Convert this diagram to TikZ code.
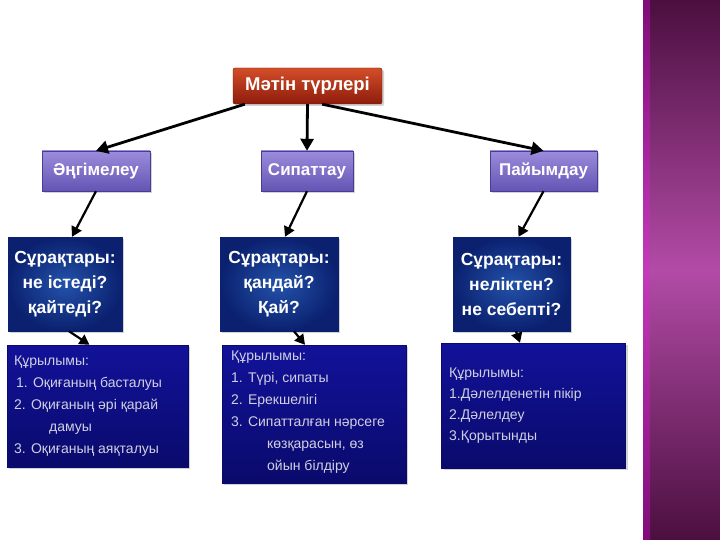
\documentclass[tikz,border=0pt]{standalone}
\usepackage{fontspec}
\setmainfont{Liberation Sans}
\usetikzlibrary{calc,arrows.meta,shadows}
\definecolor{bandDark}{HTML}{4B0F3F}
\definecolor{bandMid}{HTML}{B24BA6}
\definecolor{redTop}{HTML}{D24E28}
\definecolor{redBot}{HTML}{8E1C0C}
\definecolor{purTop}{HTML}{9B8CDC}
\definecolor{purBot}{HTML}{6454B4}
\definecolor{purLine}{HTML}{4A3C94}
\definecolor{blueIn}{HTML}{2352AA}
\definecolor{blueOut}{HTML}{0B2170}
\definecolor{navyTop}{HTML}{12129A}
\definecolor{navyBot}{HTML}{0A0A6C}
\definecolor{lightText}{HTML}{D0D0E2}
\tikzset{
  shad/.style={drop shadow={opacity=0.35,shadow xshift=2pt,shadow yshift=-2pt}},
  titlebox/.style={shad,rectangle,rounded corners=2pt,top color=redTop,bottom color=redBot,draw=redBot!80!black,
    minimum width=149pt,minimum height=36pt,text=white,font=\bfseries\fontsize{18.5}{22}\selectfont},
  kindbox/.style={shad,rectangle,top color=purTop,bottom color=purBot,draw=purLine,
    minimum height=40pt,text height=13pt,text depth=4pt,text=white,font=\bfseries\fontsize{17}{20}\selectfont},
  qbox/.style={shad,rectangle,inner color=blueIn,outer color=blueOut,draw=blueOut,
    minimum height=94pt,text=white,align=center,font=\bfseries\fontsize{17.5}{25}\selectfont},
  sbox/.style={shad,rectangle,top color=navyTop,bottom color=navyBot,draw=navyBot},
  stext/.style={anchor=north west,align=left,inner sep=0pt,text=lightText,font=\fontsize{14}{22}\selectfont},
  arr/.style={line width=2.8pt,-{Triangle[length=12pt,width=13pt]}},
  sarr/.style={line width=2.2pt,-{Triangle[length=10pt,width=11pt]}}
}
\begin{document}
\begin{tikzpicture}[x=1pt,y=-1pt]
\useasboundingbox (0,0) rectangle (720,540);
\fill[white] (0,0) rectangle (720,540);
% right band
\shade[top color=bandDark,bottom color=bandDark,middle color=bandMid] (643,0) rectangle (720,540);
\shade[top color=bandDark!70!magenta,bottom color=bandDark!70!magenta,middle color=bandMid!80!magenta] (643,0) rectangle (650,540);

% nodes
\node[titlebox] (top) at (307.5,86) {Мәтін түрлері};

\node[kindbox,minimum width=108pt] (k1) at (96,171) {Әңгімелеу};
\node[kindbox,minimum width=92pt] (k2) at (307,171) {Сипаттау};
\node[kindbox,minimum width=107pt] (k3) at (543.5,171) {Пайымдау};

\node[qbox,minimum width=114pt] (q1) at (65,284) {Сұрақтары:\\не істеді?\\қайтеді?};
\node[qbox,minimum width=118pt] (q2) at (279,284) {Сұрақтары:\\қандай?\\Қай?};
\node[qbox,minimum width=117pt] (q3) at (511.5,284) {Сұрақтары:\\неліктен?\\не себепті?};

\node[sbox,minimum width=181pt,minimum height=122pt] (s1) at (97.5,406) {};
\node[sbox,minimum width=184pt,minimum height=138pt] (s2) at (314,414) {};
\node[sbox,minimum width=184pt,minimum height=125pt] (s3) at (533.5,405.5) {};

\node[stext] (t1) at (14,356) {Құрылымы:\\
\hspace*{2pt}1. Оқиғаның басталуы\\
2. Оқиғаның әрі қарай\\
\hspace*{35pt}дамуы\\
3. Оқиғаның аяқталуы};
\node[stext] (t2) at (231,351) {Құрылымы:\\
1. Түрі, сипаты\\
2. Ерекшелігі\\
3. Сипатталған нәрсеге\\
\hspace*{36pt}көзқарасын, өз\\
\hspace*{36pt}ойын білдіру};
\node[stext,font=\fontsize{14}{21}\selectfont] (t3) at (449,368) {Құрылымы:\\
1.Дәлелденетін пікір\\
2.Дәлелдеу\\
3.Қорытынды};

% connectors
\draw[arr] ($(top.south west)+(12,0)$) -- (k1.north);
\draw[arr] (top.south) -- (k2.north);
\draw[arr] ($(top.south east)+(-60,0)$) -- (k3.north);

\draw[sarr] (k1.south) -- ($(q1.north)+(7,0)$);
\draw[sarr] (k2.south) -- ($(q2.north)+(6,0)$);
\draw[sarr] (k3.south) -- ($(q3.north)+(7,0)$);

\draw[sarr] ($(q1.south)+(4,0)$) -- ($(s1.north)+(-8,0)$);
\draw[sarr] ($(q2.south)+(15,0)$) -- ($(s2.north)+(-9,0)$);
\draw[sarr] ($(q3.south)+(4.5,0)$) -- ($(s3.north)+(-13.5,0)$);
\end{tikzpicture}
\end{document}
